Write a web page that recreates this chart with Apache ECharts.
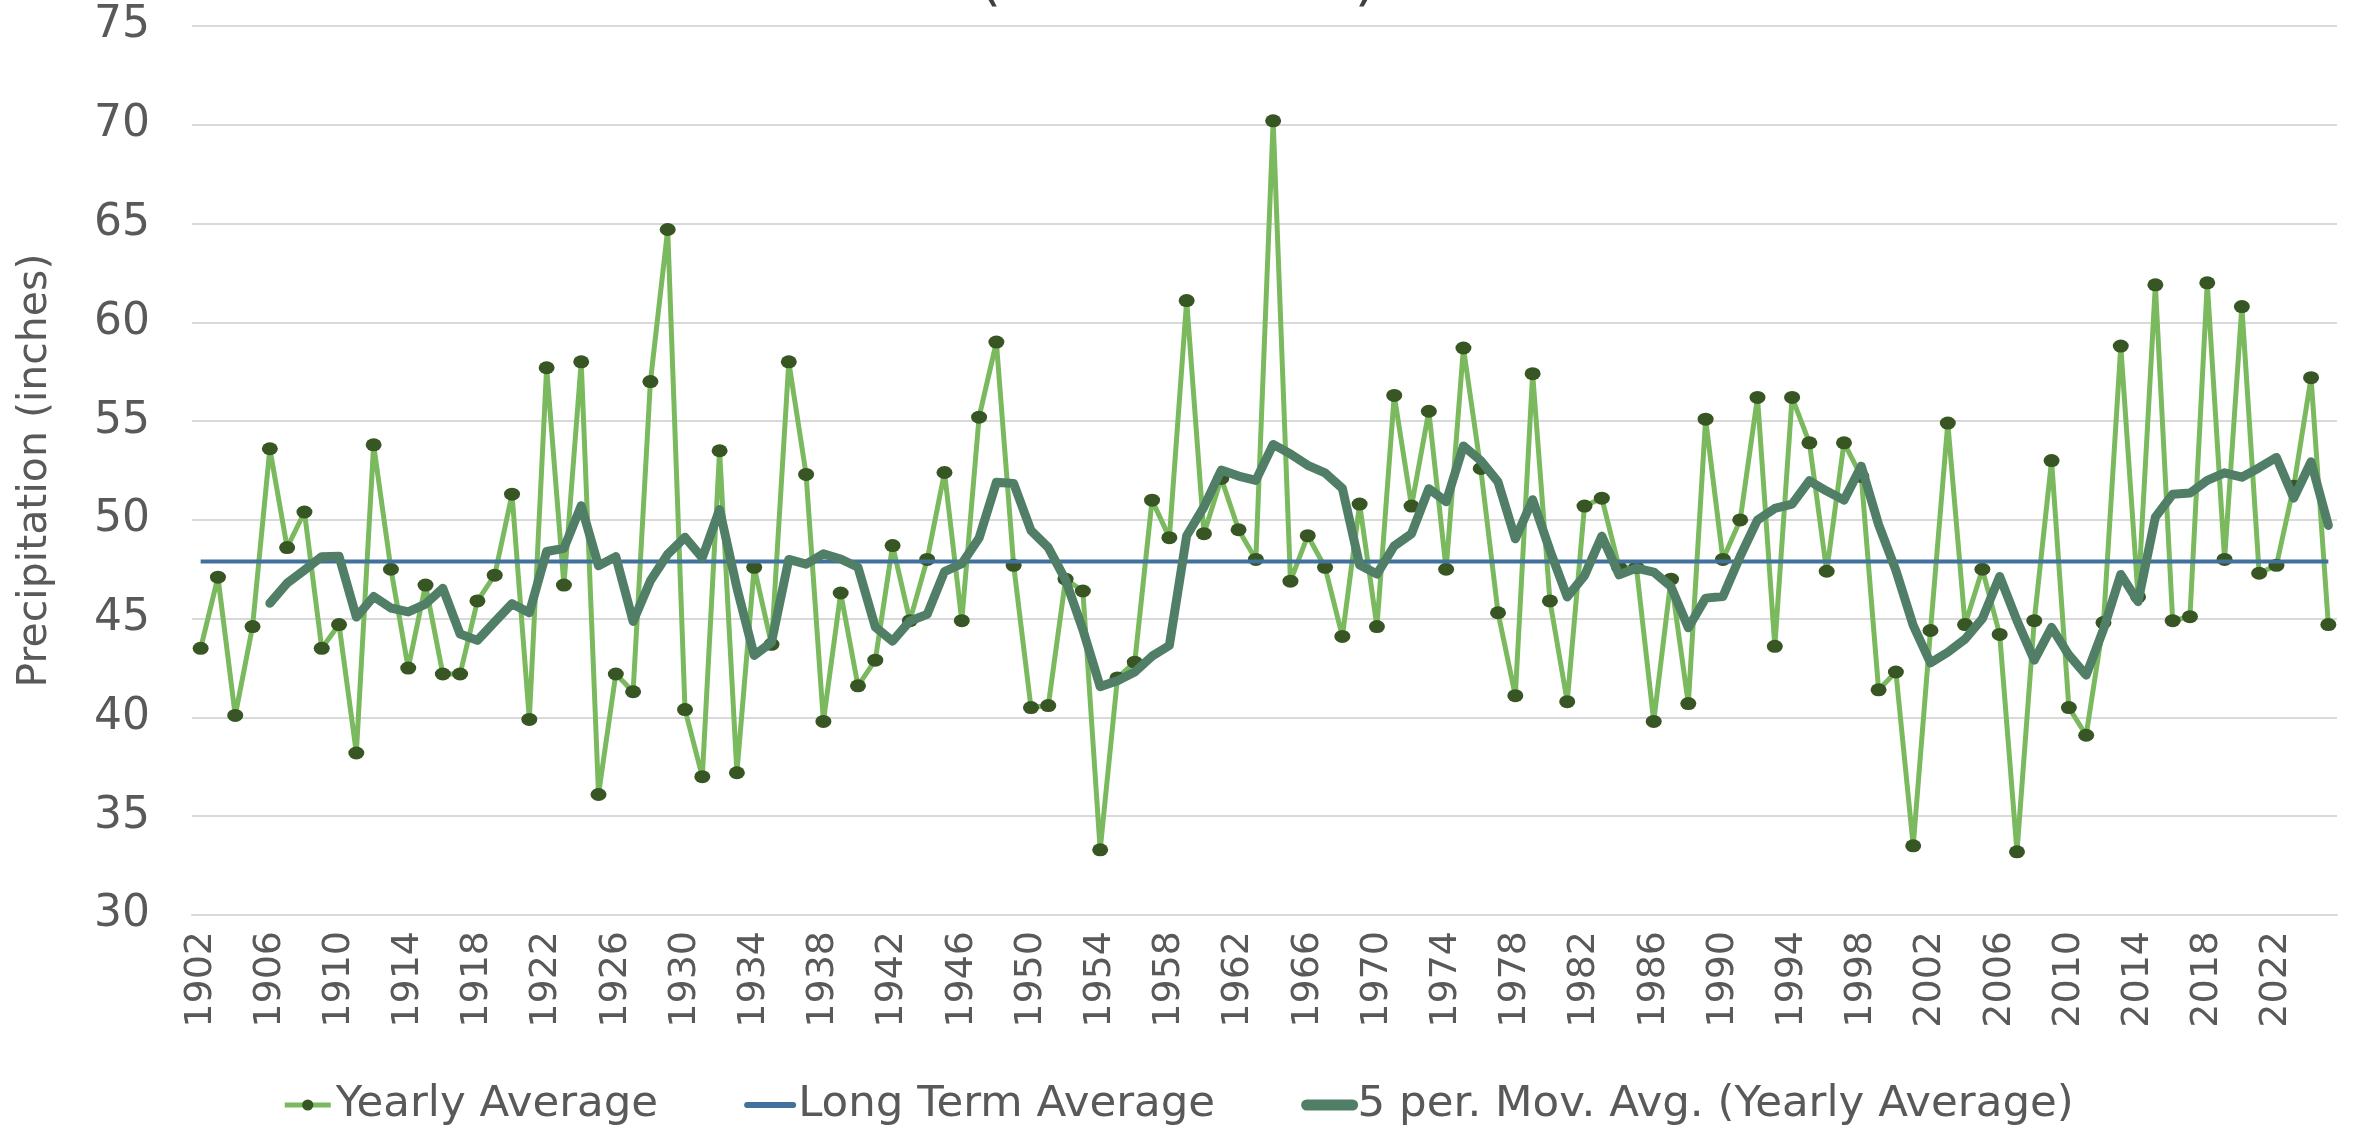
<!DOCTYPE html>
<html>
<head>
<meta charset="utf-8">
<title>Precipitation</title>
<script src="https://cdn.jsdelivr.net/npm/echarts@6/dist/echarts.min.js"></script>
<style>
  html, body { margin: 0; padding: 0; background: #ffffff; }
  #chart { width: 2356px; height: 1132px; }
</style>
</head>
<body>
<div id="chart"></div>
<script>
// Years on the category axis
const years = [
  '1902','1903','1904','1905','1906','1907','1908','1909','1910','1911',
  '1912','1913','1914','1915','1916','1917','1918','1919','1920','1921',
  '1922','1923','1924','1925','1926','1927','1928','1929','1930','1931',
  '1932','1933','1934','1935','1936','1937','1938','1939','1940','1941',
  '1942','1943','1944','1945','1946','1947','1948','1949','1950','1951',
  '1952','1953','1954','1955','1956','1957','1958','1959','1960','1961',
  '1962','1963','1964','1965','1966','1967','1968','1969','1970','1971',
  '1972','1973','1974','1975','1976','1977','1978','1979','1980','1981',
  '1982','1983','1984','1985','1986','1987','1988','1989','1990','1991',
  '1992','1993','1994','1995','1996','1997','1998','1999','2000','2001',
  '2002','2003','2004','2005','2006','2007','2008','2009','2010','2011',
  '2012','2013','2014','2015','2016','2017','2018','2019','2020','2021',
  '2022','2023','2024','2025'
];

// Yearly average precipitation (inches)
const yearlyAverage = [
  43.5, 47.1, 40.1, 44.6, 53.6, 48.6, 50.4, 43.5, 44.7, 38.2,
  53.8, 47.5, 42.5, 46.7, 42.2, 42.2, 45.9, 47.2, 51.3, 39.9,
  57.7, 46.7, 58.0, 36.1, 42.2, 41.3, 57.0, 64.7, 40.4, 37.0,
  53.5, 37.2, 47.6, 43.7, 58.0, 52.3, 39.8, 46.3, 41.6, 42.9,
  48.7, 44.9, 48.0, 52.4, 44.9, 55.2, 59.0, 47.7, 40.5, 40.6,
  47.0, 46.4, 33.3, 42.0, 42.8, 51.0, 49.1, 61.1, 49.3, 52.1,
  49.5, 48.0, 70.2, 46.9, 49.2, 47.6, 44.1, 50.8, 44.6, 56.3,
  50.7, 55.5, 47.5, 58.7, 52.6, 45.3, 41.1, 57.4, 45.9, 40.8,
  50.7, 51.1, 47.6, 47.6, 39.8, 47.0, 40.7, 55.1, 48.0, 50.0,
  56.2, 43.6, 56.2, 53.9, 47.4, 53.9, 52.2, 41.4, 42.3, 33.5,
  44.4, 54.9, 44.7, 47.5, 44.2, 33.2, 44.9, 53.0, 40.5, 39.1,
  44.8, 58.8, 46.1, 61.9, 44.9, 45.1, 62.0, 48.0, 60.8, 47.3,
  47.7, 51.7, 57.2, 44.7
];

// 5-period moving average of the yearly values (first four years have none)
const movingAverage5 = [
  null, null, null, null, 45.78, 46.80, 47.46, 48.14, 48.16, 45.08,
  46.12, 45.54, 45.34, 45.74, 46.54, 44.22, 43.90, 44.84, 45.76, 45.30,
  48.40, 48.56, 50.72, 47.68, 48.14, 44.86, 46.92, 48.26, 49.12, 48.08,
  50.52, 46.56, 43.14, 43.80, 48.00, 47.76, 48.28, 48.02, 47.60, 44.58,
  43.86, 44.88, 45.22, 47.38, 47.78, 49.08, 51.90, 51.84, 49.46, 48.60,
  46.96, 44.44, 41.56, 41.86, 42.30, 43.10, 43.64, 49.20, 50.66, 52.52,
  52.22, 52.00, 53.82, 53.34, 52.76, 52.38, 51.60, 47.72, 47.26, 48.68,
  49.30, 51.58, 50.92, 53.74, 53.00, 51.92, 49.04, 51.02, 48.46, 46.10,
  47.18, 49.18, 47.22, 47.56, 47.36, 46.62, 44.54, 46.04, 46.12, 48.16,
  50.00, 50.58, 50.80, 51.98, 51.46, 51.00, 52.72, 49.76, 47.44, 44.66,
  42.76, 43.30, 43.96, 45.00, 47.14, 44.90, 42.90, 44.56, 43.16, 42.14,
  44.46, 47.24, 45.86, 50.14, 51.30, 51.36, 52.00, 52.38, 52.16, 52.64,
  53.16, 51.10, 52.94, 49.72
];

// Long term average (inches), drawn across the whole period
const longTermAverage = 47.9;
const longTermEnds = [years[0], years[years.length - 1]];

// Value axis ticks
const yMin = 30;
const yMax = 75;
const yStep = 5;

const FONT = "'DejaVu Sans', Verdana, sans-serif";
const TEXT_GREY = '#595959';
const GRID_GREY = '#d9d9d9';

const COLOR_YEARLY = '#7ab95e';
const COLOR_MARKER = '#375623';
const COLOR_LTA = '#41719c';
const COLOR_MA = '#507e66';

const chart = echarts.init(document.getElementById('chart'), null, { renderer: 'canvas' });

chart.setOption({
  animation: false,
  backgroundColor: '#ffffff',
  textStyle: { fontFamily: FONT },
  graphic: [{
    // second line of the title; the chart area starts just below it
    type: 'text',
    x: 1178,
    y: -16,
    style: {
      text: '(1902 - 2025)',
      font: "58px 'DejaVu Sans', Verdana, sans-serif",
      fill: '#404040',
      align: 'center',
      verticalAlign: 'middle'
    }
  }],
  grid: { left: 192, right: 19, top: 26, bottom: 217 },
  legend: {
    bottom: 0,
    left: 'center',
    itemWidth: 46,
    itemHeight: 14,
    itemGap: 86,
    textStyle: { fontSize: 43.5, color: TEXT_GREY, fontFamily: FONT },
    data: [
      { name: 'Yearly Average', lineStyle: { width: 5 } },
      { name: 'Long Term Average', lineStyle: { width: 6, cap: 'round' }, itemStyle: { opacity: 0 } },
      { name: '5 per. Mov. Avg. (Yearly Average)', lineStyle: { width: 11, cap: 'round' }, itemStyle: { opacity: 0 } }
    ]
  },
  xAxis: {
    type: 'category',
    data: years,
    boundaryGap: true,
    axisTick: { show: false },
    axisLine: { lineStyle: { color: GRID_GREY, width: 2 } },
    axisLabel: {
      interval: 3,
      rotate: 90,
      margin: 16,
      fontSize: 38,
      color: TEXT_GREY,
      fontFamily: FONT
    },
    splitLine: { show: false }
  },
  yAxis: {
    type: 'value',
    min: yMin,
    max: yMax,
    interval: yStep,
    name: 'Precipitation (inches)',
    nameLocation: 'middle',
    nameRotate: 90,
    nameGap: 136,
    nameTextStyle: { fontSize: 41, color: TEXT_GREY, fontFamily: FONT },
    axisLine: { show: false },
    axisTick: { show: false },
    axisLabel: { margin: 42, fontSize: 44, color: TEXT_GREY, fontFamily: FONT },
    splitLine: { lineStyle: { color: GRID_GREY, width: 2 } }
  },
  series: [
    {
      name: 'Yearly Average',
      type: 'line',
      z: 2,
      data: yearlyAverage,
      symbol: 'circle',
      symbolSize: [16, 13],
      showAllSymbol: true,
      itemStyle: { color: COLOR_MARKER },
      lineStyle: { color: COLOR_YEARLY, width: 5 }
    },
    {
      name: 'Long Term Average',
      type: 'line',
      z: 3,
      data: longTermEnds.map(y => [y, longTermAverage]),
      symbol: 'none',
      itemStyle: { color: COLOR_LTA },
      lineStyle: { color: COLOR_LTA, width: 4 }
    },
    {
      name: '5 per. Mov. Avg. (Yearly Average)',
      type: 'line',
      z: 4,
      data: movingAverage5,
      symbol: 'none',
      connectNulls: false,
      itemStyle: { color: COLOR_MA },
      lineStyle: { color: COLOR_MA, width: 9, cap: 'round', join: 'round' }
    }
  ]
});
</script>
</body>
</html>
